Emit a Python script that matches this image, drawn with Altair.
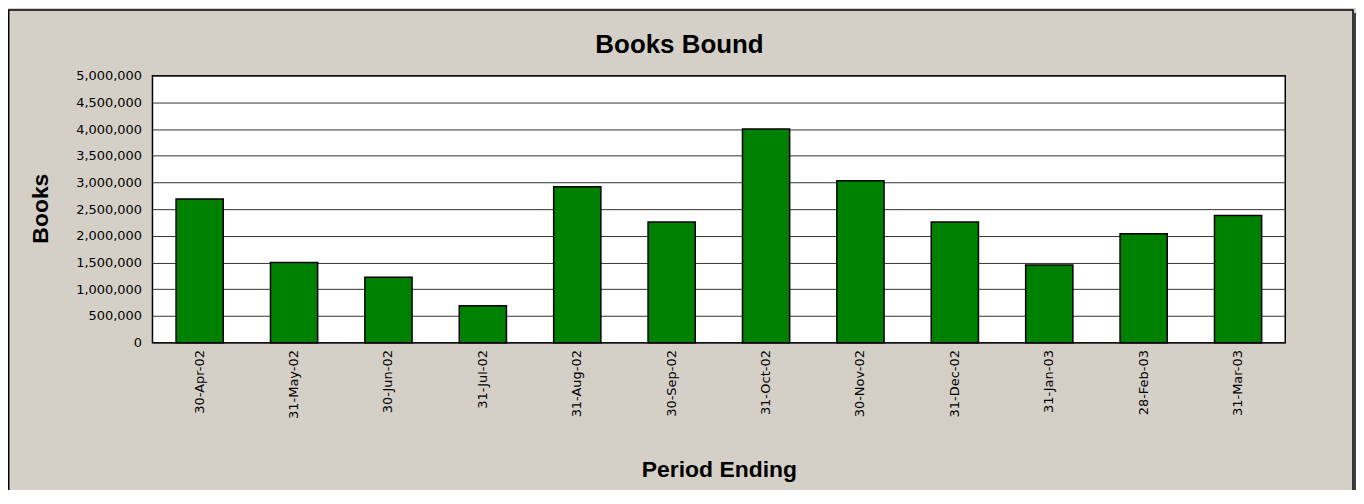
import altair as alt
import pandas as pd

periods = ["30-Apr-02", "31-May-02", "30-Jun-02", "31-Jul-02", "31-Aug-02", "30-Sep-02",
           "31-Oct-02", "30-Nov-02", "31-Dec-02", "31-Jan-03", "28-Feb-03", "31-Mar-03"]
books = [2690000, 1500000, 1225000, 690000, 2920000, 2260000,
         4000000, 3030000, 2260000, 1455000, 2040000, 2380000]
y_ticks = [0, 500000, 1000000, 1500000, 2000000, 2500000, 3000000,
           3500000, 4000000, 4500000, 5000000]
chart_title = ["Books Bound"]

W, H = 1137, 268
PL, PT = 145, 67
TOTAL_W, TOTAL_H = 1353, 482

df = pd.DataFrame({"period": periods, "books": books})
one = pd.DataFrame({"t": chart_title})

bars = alt.Chart(df).mark_bar(color="#008000", stroke="black", strokeWidth=1.5).encode(
    x=alt.X("period:N", sort=None,
            scale=alt.Scale(paddingInner=0.5, paddingOuter=0.25),
            axis=alt.Axis(title="Period Ending", labelAngle=-90, labelPadding=7,
                          ticks=False, tickSize=0, domain=False, grid=False,
                          labelFont="DejaVu Sans", labelFontSize=13, labelColor="black",
                          titleFont="Liberation Sans", titleFontSize=23, titleFontWeight="bold",
                          titleColor="black", titleX=W / 2, titleY=134,
                          titleBaseline="alphabetic", titleAlign="center")),
    y=alt.Y("books:Q",
            scale=alt.Scale(domain=[0, 5000000], nice=False),
            axis=alt.Axis(title="Books", values=y_ticks, format=",d", labelPadding=11,
                          ticks=False, tickSize=0, domain=False, grid=True,
                          gridColor="#333333", gridWidth=1, gridOpacity=1,
                          labelFont="DejaVu Sans", labelFontSize=13, labelColor="black",
                          titleFont="Liberation Sans", titleFontSize=23, titleFontWeight="bold",
                          titleColor="black", titleAngle=-90, titleX=-105, titleY=133,
                          titleBaseline="alphabetic", titleAlign="center")),
)

title_text = alt.Chart(one).mark_text(
    font="Liberation Sans", fontSize=26, fontWeight="bold", color="black",
    align="center", baseline="alphabetic"
).encode(text="t:N", x=alt.value(529), y=alt.value(-23))

frame = alt.Chart(one).mark_rect(fillOpacity=0, stroke="black", strokeWidth=1.5).encode(
    x=alt.value(-144.25), x2=alt.value(1205), y=alt.value(-66), y2=alt.value(H + 300)
)
shadow = alt.Chart(one).mark_rect(fill="#404040").encode(
    x=alt.value(1206), x2=alt.value(1209), y=alt.value(-63), y2=alt.value(H + 300)
)

chart = alt.layer(bars, title_text, frame, shadow).properties(
    width=W, height=H,
    autosize=alt.AutoSizeParams(type="none"),
    padding={"left": PL, "top": PT, "right": TOTAL_W - PL - W, "bottom": TOTAL_H - PT - H},
    background="#D4D0C8",
).configure_view(fill="white", stroke="black", strokeWidth=1.5)

chart.save("out.html", embed_options={"renderer": "svg", "actions": False})
